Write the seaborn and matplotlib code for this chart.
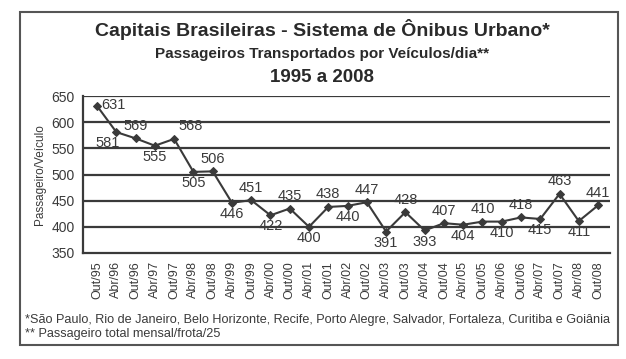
import numpy as np
import pandas as pd
import matplotlib
matplotlib.use("Agg")
import matplotlib.pyplot as plt
from matplotlib.patches import Rectangle
import seaborn as sns

# data
periods = ["Out/95", "Abr/96", "Out/96", "Abr/97", "Out/97", "Abr/98", "Out/98",
           "Abr/99", "Out/99", "Abr/00", "Out/00", "Abr/01", "Out/01", "Abr/02",
           "Out/02", "Abr/03", "Out/03", "Abr/04", "Out/04", "Abr/05", "Out/05",
           "Abr/06", "Out/06", "Abr/07", "Out/07", "Abr/08", "Out/08"]
passageiros = [631, 581, 569, 555, 568, 505, 506, 446, 451, 422, 435, 400, 438, 440,
               447, 391, 428, 393, 407, 404, 410, 410, 418, 415, 463, 411, 441]
y_ticks = [350, 400, 450, 500, 550, 600, 650]

df = pd.DataFrame({"pos": np.arange(len(periods)), "valor": passageiros})

sns.set_style("white")
plt.rcParams["font.family"] = ["Liberation Sans", "DejaVu Sans"]

dark = "#3a3a3a"
fig = plt.figure(figsize=(6.26, 3.59), dpi=100)
ax = fig.add_axes([83 / 626, 1 - 253 / 359, (610 - 83) / 626, (253 - 96) / 359])

# horizontal grid
for v in y_ticks[1:]:
    ax.axhline(v, color=dark, lw=1.6, zorder=1)

sns.lineplot(data=df, x="pos", y="valor", ax=ax, color=dark, lw=1.5,
             marker="D", markersize=4.5, markeredgecolor=dark, zorder=3)

# value labels, alternating above / below
for i, v in enumerate(passageiros):
    if i == 0:
        ax.annotate(str(v), (i, v), xytext=(3, 1), textcoords="offset points",
                    ha="left", va="center", fontsize=10.5, color=dark)
    elif i % 2 == 0:
        ax.annotate(str(v), (i, v), xytext=(3 if i == 4 else 0, 4), textcoords="offset points",
                    ha="left" if i == 4 else "center", va="bottom", fontsize=10.5, color=dark)
    else:
        dx = -6 if i == 1 else 0
        ax.annotate(str(v), (i, v), xytext=(dx, -3), textcoords="offset points",
                    ha="center", va="top", fontsize=10.5, color=dark)

ax.set_ylim(350, 650)
ax.set_xlim(-0.73, 26.62)
ax.set_yticks(y_ticks)
ax.set_yticklabels([str(t) for t in y_ticks], fontsize=10, color=dark)
ax.set_xticks(np.arange(len(periods)))
ax.set_xticklabels(periods, rotation=90, fontsize=9, color=dark)
ax.set_xticks(np.arange(len(periods) + 1) - 0.5, minor=True)
ax.tick_params(axis="x", which="major", length=0, pad=6)
ax.tick_params(axis="x", which="minor", length=4, width=1.2, color=dark, direction="out")
ax.tick_params(axis="y", length=4, width=1.2, color=dark, direction="out", pad=2)
ax.set_xlabel("")
ax.set_ylabel("Passageiro/Veículo", fontsize=8.5, color=dark, labelpad=4)

for s in ["top", "right"]:
    ax.spines[s].set_visible(False)
for s in ["left", "bottom"]:
    ax.spines[s].set_color(dark)
    ax.spines[s].set_linewidth(1.6)

# titles
cx = 322 / 626
fig.text(cx, 1 - 30 / 359, "Capitais Brasileiras - Sistema de Ônibus Urbano*",
         ha="center", va="center", fontsize=14, fontweight="bold", color="#2a2a2a")
fig.text(cx, 1 - 54 / 359, "Passageiros Transportados por Veículos/dia**",
         ha="center", va="center", fontsize=11, fontweight="bold", color="#2a2a2a")
fig.text(cx, 1 - 77 / 359, "1995 a 2008",
         ha="center", va="center", fontsize=13.5, fontweight="bold", color="#2a2a2a")

# footnotes
fig.text(25 / 626, 1 - 320 / 359,
         "*São Paulo, Rio de Janeiro, Belo Horizonte, Recife, Porto Alegre, Salvador, Fortaleza, Curitiba e Goiânia",
         ha="left", va="center", fontsize=9.1, color=dark)
fig.text(25 / 626, 1 - 334 / 359, "** Passageiro total mensal/frota/25",
         ha="left", va="center", fontsize=9.1, color=dark)

# outer frame
fig.patches.append(Rectangle((20 / 626, 1 - 345 / 359), 598 / 626, 333 / 359,
                             transform=fig.transFigure, fill=False,
                             edgecolor="#555555", lw=1.5))

fig.savefig("out.png", dpi=100)
